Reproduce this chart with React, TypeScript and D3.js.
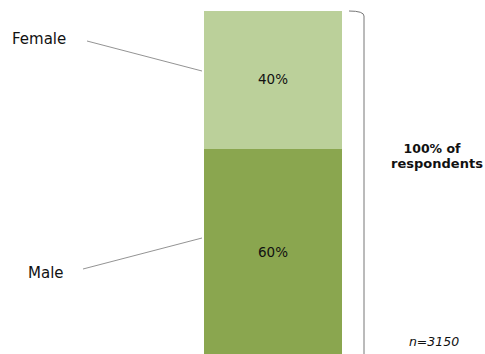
import React from "react";
import * as d3 from "d3";

const categories = ["Male", "Female"];
const values = [60, 40];
const valueLabels = ["60%", "40%"];
const colors = ["#8AA64F", "#BBD09A"];
const totalLabel = ["100% of", "respondents"];
const nLabel = "n=3150";

export default function App() {
  const W = 485, H = 354;
  const y = d3.scaleLinear().domain([0, 100]).range([356, 11]);
  const x = d3.scaleBand().domain(["all"]).range([204, 342]).padding(0);
  const stack = d3.stack<any>().keys(categories)([
    Object.fromEntries(categories.map((c, i) => [c, values[i]])),
  ]);
  const font = "'DejaVu Sans', sans-serif";
  const labelPos: Record<string, { tx: number; ty: number; lx1: number; ly1: number; lx2: number; ly2: number }> = {
    Female: { tx: 12, ty: 44, lx1: 87, ly1: 41, lx2: 202, ly2: 71 },
    Male: { tx: 28, ty: 278, lx1: 83, ly1: 269, lx2: 202, ly2: 238 },
  };
  return (
    <svg width={W} height={H} style={{ position: "absolute", left: 0, top: 0, background: "#fff" }}>
      {stack.map((s, i) => {
        const d = s[0];
        const y0 = y(d[0]);
        const y1 = y(d[1]);
        const key = s.key;
        const lp = labelPos[key];
        return (
          <g key={key}>
            <rect x={x("all")!} width={x.bandwidth()} y={y1} height={y0 - y1} fill={colors[i]} />
            <text
              x={x("all")! + x.bandwidth() / 2}
              y={(y0 + y1) / 2 + 4}
              textAnchor="middle"
              fontFamily={font}
              fontSize={13.5}
              fill="#111"
            >
              {valueLabels[i]}
            </text>
            <text x={lp.tx} y={lp.ty} fontFamily={font} fontSize={15} fill="#111">
              {key}
            </text>
            <line x1={lp.lx1} y1={lp.ly1} x2={lp.lx2} y2={lp.ly2} stroke="#777" strokeWidth={0.8} />
          </g>
        );
      })}
      <path
        d={`M349,11 Q364,11 364,16 L364,${H + 2}`}
        fill="none"
        stroke="#777"
        strokeWidth={1}
      />
      <text x={432} y={153} textAnchor="middle" fontFamily={font} fontWeight="bold" fontSize={12.5} fill="#111">
        {totalLabel[0]}
      </text>
      <text x={437} y={168} textAnchor="middle" fontFamily={font} fontWeight="bold" fontSize={13} fill="#111">
        {totalLabel[1]}
      </text>
      <text x={434} y={346} textAnchor="middle" fontFamily={font} fontStyle="italic" fontSize={12.5} fill="#111">
        {nLabel}
      </text>
    </svg>
  );
}
